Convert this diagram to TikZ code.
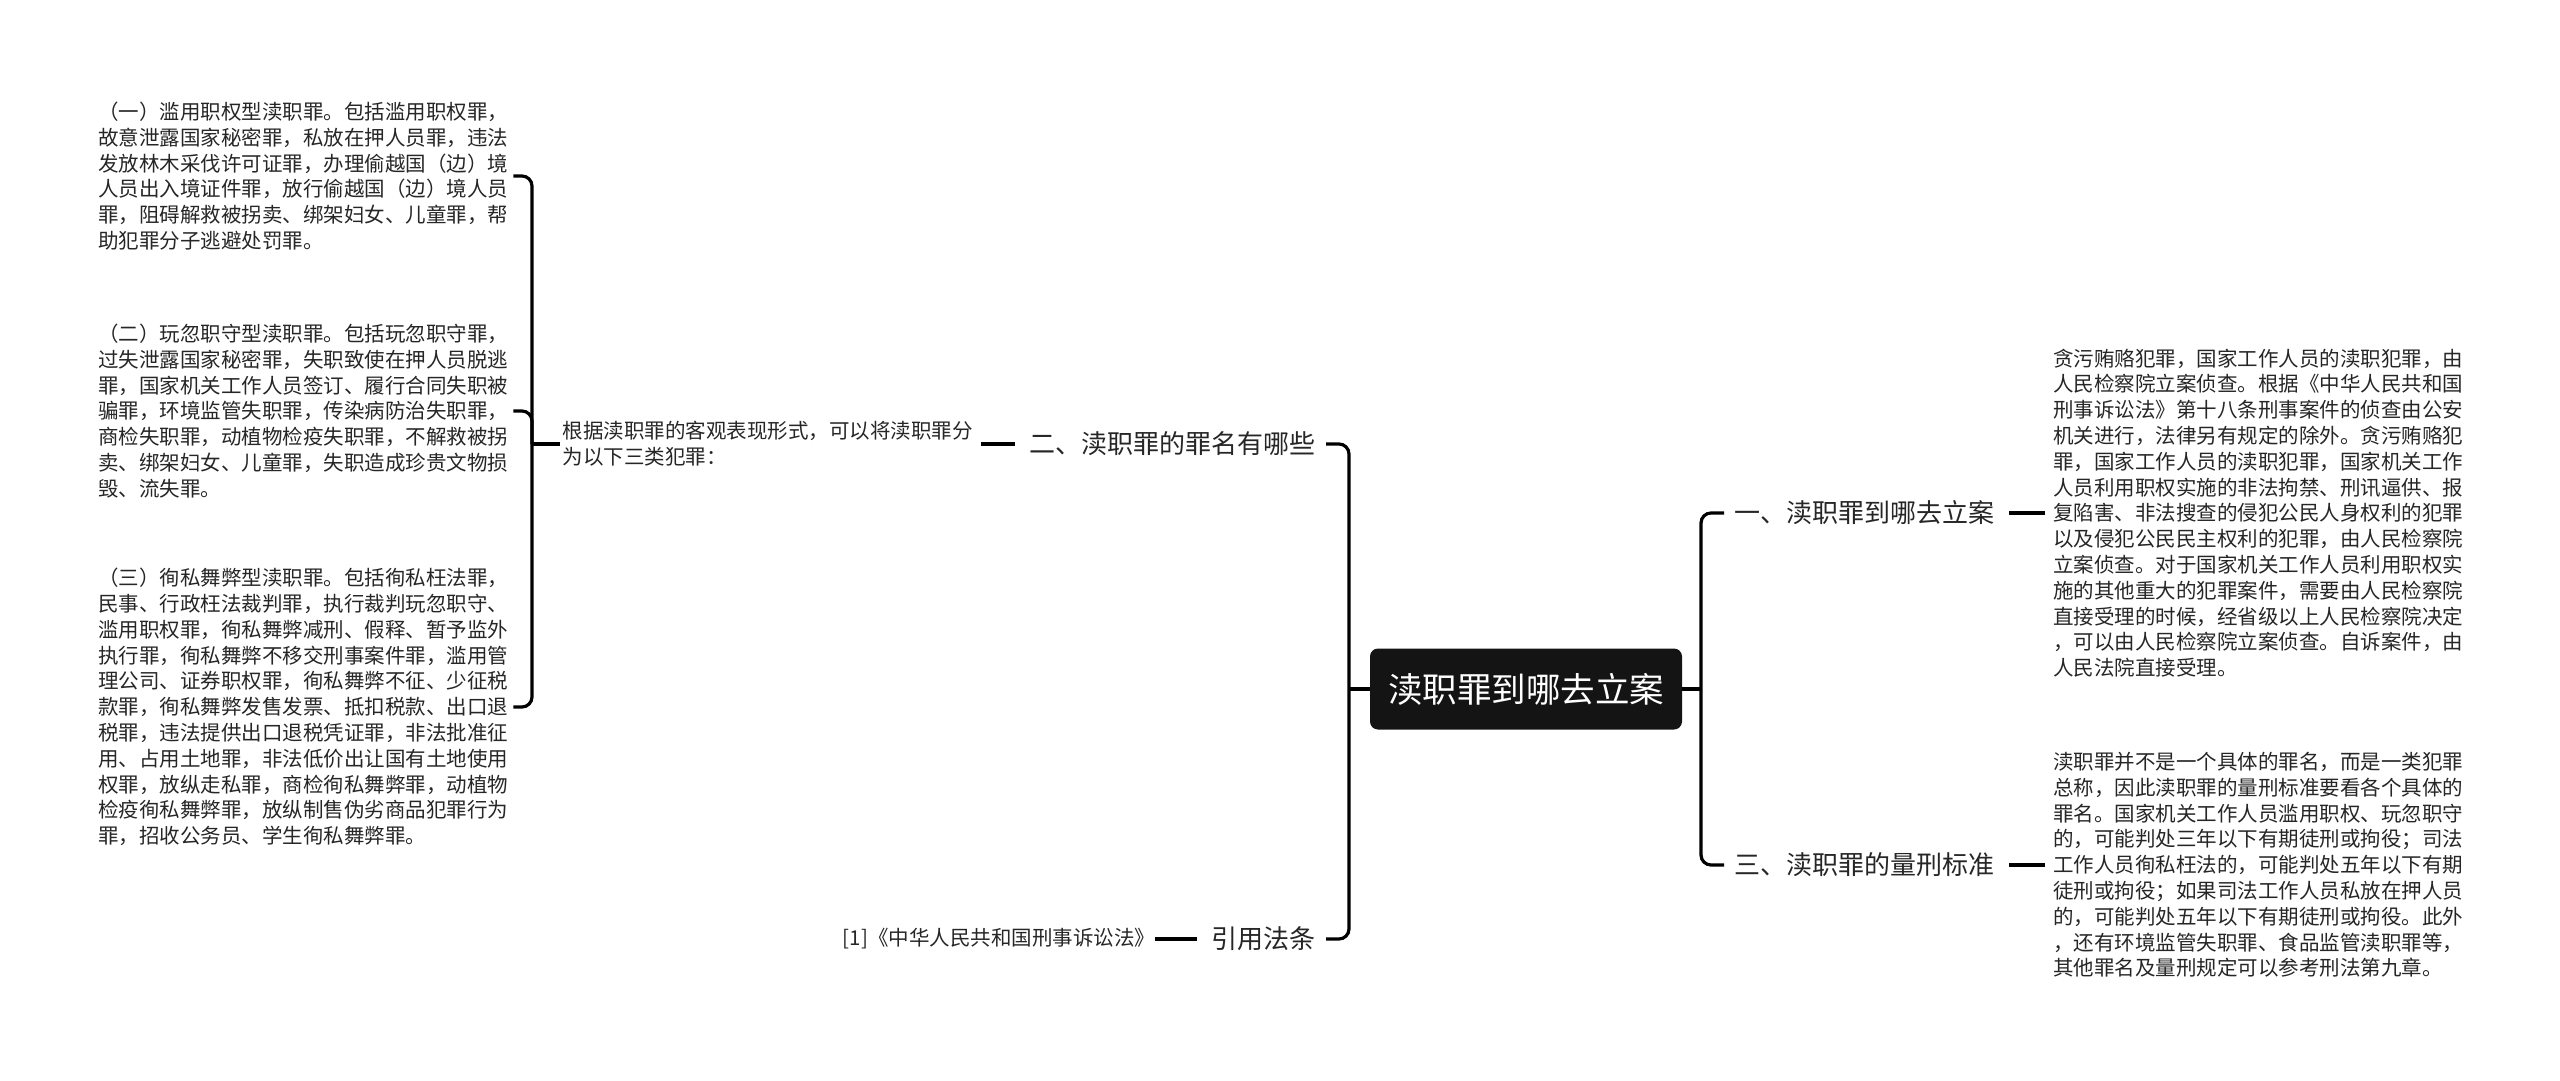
\documentclass[tikz,border=0pt]{standalone}
\usepackage{fontspec}
\setmainfont{Noto Sans CJK SC}
\definecolor{inkgray}{HTML}{262626}
\definecolor{rootfill}{HTML}{141414}

\begin{document}
\begin{tikzpicture}[x=1pt, y=-1pt,
	conn/.style={line width=3.2pt, draw=black},
	link/.style={conn, shorten <=5pt, shorten >=5pt},
	brk/.style={conn, rounded corners=10pt},
	leaf/.style={inner sep=3pt, text width=412pt, align=left, text=inkgray, font=\fontsize{20.5}{25.8}\selectfont},
	branch/.style={inner xsep=10pt, inner ysep=3pt, text=inkgray, font=\fontsize{26}{30}\selectfont},
	rootbox/.style={fill=rootfill, rounded corners=8pt, text=white, minimum width=312pt, minimum height=81pt, font=\fontsize{34.5}{40}\selectfont}]
	\useasboundingbox (0,0) rectangle (2560,1081);
	% centre
	\node[rootbox] (root) at (1526,689) {渎职罪到哪去立案};
	% left side
	\node[branch, anchor=east] (b2) at (1326,444) {二、渎职罪的罪名有哪些};
	\node[branch, anchor=east] (b3) at (1326,939) {引用法条};
	\node[leaf, anchor=east, text width=410pt] (note) at (976,444) {根据渎职罪的客观表现形式，可以将渎职罪分\\为以下三类犯罪：};
	\node[leaf, anchor=east, text width=304pt, align=right] (ref) at (1150,939) {[1]《中华人民共和国刑事诉讼法》};
	\node[leaf, anchor=west] (it1) at (95,176) {（一）滥用职权型渎职罪。包括滥用职权罪，\\故意泄露国家秘密罪，私放在押人员罪，违法\\发放林木采伐许可证罪，办理偷越国（边）境\\人员出入境证件罪，放行偷越国（边）境人员\\罪，阻碍解救被拐卖、绑架妇女、儿童罪，帮\\助犯罪分子逃避处罚罪。};
	\node[leaf, anchor=west] (it2) at (95,411) {（二）玩忽职守型渎职罪。包括玩忽职守罪，\\过失泄露国家秘密罪，失职致使在押人员脱逃\\罪，国家机关工作人员签订、履行合同失职被\\骗罪，环境监管失职罪，传染病防治失职罪，\\商检失职罪，动植物检疫失职罪，不解救被拐\\卖、绑架妇女、儿童罪，失职造成珍贵文物损\\毁、流失罪。};
	\node[leaf, anchor=west] (it3) at (95,707) {（三）徇私舞弊型渎职罪。包括徇私枉法罪，\\民事、行政枉法裁判罪，执行裁判玩忽职守、\\滥用职权罪，徇私舞弊减刑、假释、暂予监外\\执行罪，徇私舞弊不移交刑事案件罪，滥用管\\理公司、证券职权罪，徇私舞弊不征、少征税\\款罪，徇私舞弊发售发票、抵扣税款、出口退\\税罪，违法提供出口退税凭证罪，非法批准征\\用、占用土地罪，非法低价出让国有土地使用\\权罪，放纵走私罪，商检徇私舞弊罪，动植物\\检疫徇私舞弊罪，放纵制售伪劣商品犯罪行为\\罪，招收公务员、学生徇私舞弊罪。};
	% right side
	\node[branch, anchor=west] (b1) at (1724,513) {一、渎职罪到哪去立案};
	\node[branch, anchor=west] (b4) at (1724,865) {三、渎职罪的量刑标准};
	\node[leaf, anchor=west] (txt1) at (2050,513) {贪污贿赂犯罪，国家工作人员的渎职犯罪，由\\人民检察院立案侦查。根据《中华人民共和国\\刑事诉讼法》第十八条刑事案件的侦查由公安\\机关进行，法律另有规定的除外。贪污贿赂犯\\罪，国家工作人员的渎职犯罪，国家机关工作\\人员利用职权实施的非法拘禁、刑讯逼供、报\\复陷害、非法搜查的侵犯公民人身权利的犯罪\\以及侵犯公民民主权利的犯罪，由人民检察院\\立案侦查。对于国家机关工作人员利用职权实\\施的其他重大的犯罪案件，需要由人民检察院\\直接受理的时候，经省级以上人民检察院决定\\，可以由人民检察院立案侦查。自诉案件，由\\人民法院直接受理。};
	\node[leaf, anchor=west] (txt2) at (2050,865) {渎职罪并不是一个具体的罪名，而是一类犯罪\\总称，因此渎职罪的量刑标准要看各个具体的\\罪名。国家机关工作人员滥用职权、玩忽职守\\的，可能判处三年以下有期徒刑或拘役；司法\\工作人员徇私枉法的，可能判处五年以下有期\\徒刑或拘役；如果司法工作人员私放在押人员\\的，可能判处五年以下有期徒刑或拘役。此外\\，还有环境监管失职罪、食品监管渎职罪等，\\其他罪名及量刑规定可以参考刑法第九章。};
	% connectors
	\coordinate (lj) at (1349,689);
	\coordinate (rj) at (1701,689);
	\coordinate (ij) at (532,444);
	\draw[conn] (root.west) -- (lj);
	\draw[brk] (lj) |- (b2.east);
	\draw[brk] (lj) |- (b3.east);
	\draw[conn] (root.east) -- (rj);
	\draw[brk] (rj) |- (b1.west);
	\draw[brk] (rj) |- (b4.west);
	\draw[link] (b2.west) -- (note.east);
	\draw[link] (b3.west) -- (ref.east);
	\draw[link] (b1.east) -- (txt1.west);
	\draw[link] (b4.east) -- (txt2.west);
	\draw[conn] (note.west) -- (ij);
	\draw[brk] (ij) |- (it1.east);
	\draw[brk] (ij) |- (it2.east);
	\draw[brk] (ij) |- (it3.east);
\end{tikzpicture}
\end{document}
